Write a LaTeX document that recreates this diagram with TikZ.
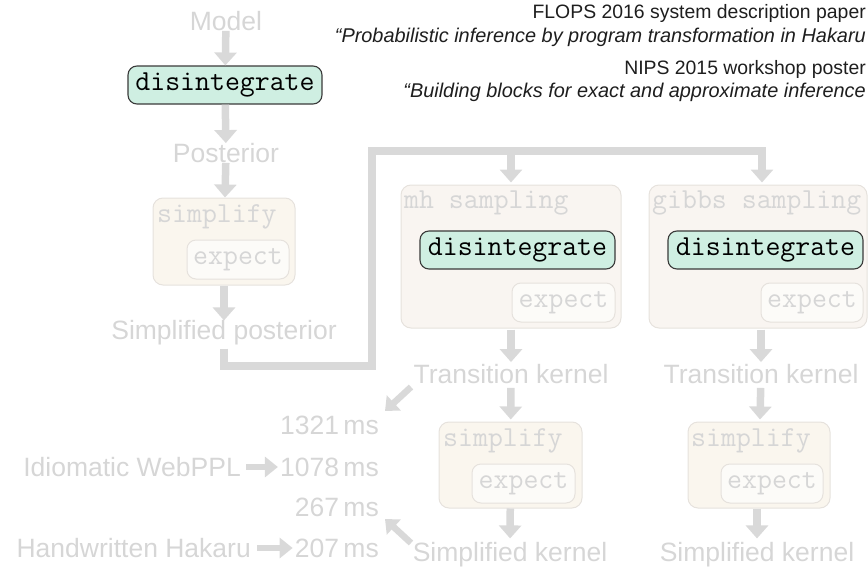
\documentclass[tikz,border=0pt]{standalone}
\usepackage{fontspec}
\setmainfont{Liberation Sans}
\usetikzlibrary{arrows.meta}
\definecolor{lgrey}{HTML}{D9D9D9}
\definecolor{tgrey}{HTML}{D6D6D6}
\definecolor{mint}{HTML}{CFEFE2}
\definecolor{dborder}{HTML}{3A3A3A}
\definecolor{sampfill}{HTML}{F9F5F1}
\definecolor{simpfill}{HTML}{FAF6EE}
\definecolor{boxline}{HTML}{E6E2DD}
\definecolor{expfill}{HTML}{FCFBF8}
\definecolor{toptext}{HTML}{1E1E1E}
\tikzset{
  biglbl/.style={inner sep=0pt, text=tgrey, font=\fontsize{26.5}{30}\selectfont},
  toplbl/.style={inner sep=0pt, text=toptext, anchor=base east, font=\fontsize{19.4}{22}\selectfont},
  topital/.style={inner sep=0pt, text=toptext, anchor=base east, font=\itshape\fontsize{19.9}{22}\selectfont},
  disbox/.style={draw=dborder, line width=1.1pt, fill=mint, rounded corners=9pt,
    minimum height=38pt, inner sep=0pt, text=black, font=\ttfamily\fontsize{29}{30}\selectfont},
  expbox/.style={draw=boxline, line width=1pt, fill=expfill, rounded corners=9pt,
    minimum width=102pt, minimum height=39pt, inner sep=0pt, text=tgrey, font=\ttfamily\fontsize{29}{30}\selectfont},
  sampbox/.style={draw=boxline, line width=1pt, fill=sampfill, rounded corners=10pt, inner sep=0pt},
  simpbox/.style={draw=boxline, line width=1pt, fill=simpfill, rounded corners=10pt, inner sep=0pt},
  monolbl/.style={inner sep=0pt, anchor=base west, text=tgrey, font=\ttfamily\fontsize{29}{30}\selectfont},
  garrow/.style={draw=lgrey, line width=7.5pt, -{Triangle[width=22pt,length=13pt]}},
  sarrow/.style={draw=lgrey, line width=6pt, -{Triangle[width=20pt,length=13pt]}},
}
\begin{document}
\begin{tikzpicture}[x=1pt,y=-1pt]
\useasboundingbox (0,0) rectangle (868,570);
% top-right references
\node[toplbl] (flops) at (866,19) {FLOPS 2016 system description paper};
\node[topital] (flopst) at (866,42) {“Probabilistic inference by program transformation in Hakaru};
\node[toplbl] (nips) at (866,74) {NIPS 2015 workshop poster};
\node[topital] (nipst) at (866,97) {“Building blocks for exact and approximate inference};
% left column
\node[biglbl] (model) at (226,21) {Model};
\node[disbox, minimum width=194pt] (dis1) at (225,85) {disintegrate};
\node[biglbl] (post) at (226,153) {Posterior};
\node[simpbox, minimum width=142pt, minimum height=87pt] (simp1) at (224,241.5) {};
\node[monolbl] (simp1l) at (157,222) {simplify};
\node[expbox] (exp1) at (238,259.5) {expect};
\node[biglbl] (simppost) at (224,333) {Simplified posterior};
\draw[garrow] (model) -- (dis1);
\draw[garrow] (dis1) -- (post);
\draw[garrow] (post) -- (simp1);
\draw[garrow] (simp1) -- (simppost);
% distribution path
\coordinate (c1) at (372,366);
\coordinate (c2) at (762,151);
\coordinate (c3) at (511,151);
% sampling boxes
\node[sampbox, minimum width=220pt, minimum height=143pt] (mh) at (511,256.5) {};
\node[monolbl] (mhl) at (404,208) {mh sampling};
\node[disbox, minimum width=195pt] (dis2) at (517.5,250) {disintegrate};
\node[expbox, minimum width=103pt] (exp2) at (563.5,302.5) {expect};
\node[sampbox, minimum width=218pt, minimum height=143pt] (gibbs) at (758,256.5) {};
\node[monolbl] (gibbsl) at (652,208) {gibbs sampling};
\node[disbox, minimum width=195pt] (dis3) at (765.5,250) {disintegrate};
\node[expbox] (exp3) at (812,302.5) {expect};
\draw[garrow, line width=8pt, shorten >=2pt] ([yshift=-3pt]simppost.south -| simp1) |- (c1) |- (c2) -- (gibbs.north -| c2);
\draw[garrow, line width=8pt, shorten >=2pt] ([yshift=4pt]c3) -- (mh.north);
% lower part
\node[biglbl] (trans1) at (511,374) {Transition kernel};
\node[biglbl] (trans2) at (761,374) {Transition kernel};
\node[simpbox, minimum width=143pt, minimum height=86pt] (simp2) at (510.5,465) {};
\node[monolbl] (simp2l) at (443,446) {simplify};
\node[expbox, minimum width=103pt] (exp4) at (523.5,483.5) {expect};
\node[simpbox, minimum width=142pt, minimum height=86pt] (simp3) at (759,465) {};
\node[monolbl] (simp3l) at (691,446) {simplify};
\node[expbox] (exp5) at (772,483.5) {expect};
\node[biglbl] (simpk1) at (510,555) {Simplified kernel};
\node[biglbl] (simpk2) at (757,555) {Simplified kernel};
\draw[garrow, shorten <=1pt, shorten >=2pt] (mh) -- (trans1);
\draw[garrow, shorten <=1pt, shorten >=2pt] (gibbs.south -| trans2) -- (trans2);
\draw[garrow, shorten <=4pt, shorten >=2pt] (trans1) -- (simp2);
\draw[garrow, shorten <=4pt, shorten >=2pt] (trans2) -- (simp3);
\draw[garrow, shorten >=4pt] (simp2) -- (simpk1);
\draw[garrow, shorten >=4pt] (simp3.south -| simpk2) -- (simpk2);
% timings
\node[biglbl, anchor=east] (t1321) at (379,425) {1321\,ms};
\node[biglbl, anchor=east] (t1078) at (379,467) {1078\,ms};
\node[biglbl, anchor=east] (idio) at (241,467) {Idiomatic WebPPL};
\node[biglbl, anchor=east] (t267) at (379,507) {267\,ms};
\node[biglbl, anchor=east] (t207) at (379,548) {207\,ms};
\node[biglbl, anchor=east] (hand) at (251,548) {Handwritten Hakaru};
\draw[sarrow, shorten <=5pt, shorten >=2pt] (idio) -- (t1078);
\draw[sarrow, shorten <=6pt, shorten >=2pt] (hand) -- (t207);
\coordinate (d1s) at (411,387);
\coordinate (d1e) at (385,411);
\coordinate (d2s) at (411,543);
\coordinate (d2e) at (385,519);
\draw[garrow, line width=6.5pt, -{Triangle[width=20pt,length=12pt]}] (d1s) -- (d1e);
\draw[garrow, line width=6.5pt, -{Triangle[width=20pt,length=12pt]}] (d2s) -- (d2e);
\end{tikzpicture}
\end{document}
